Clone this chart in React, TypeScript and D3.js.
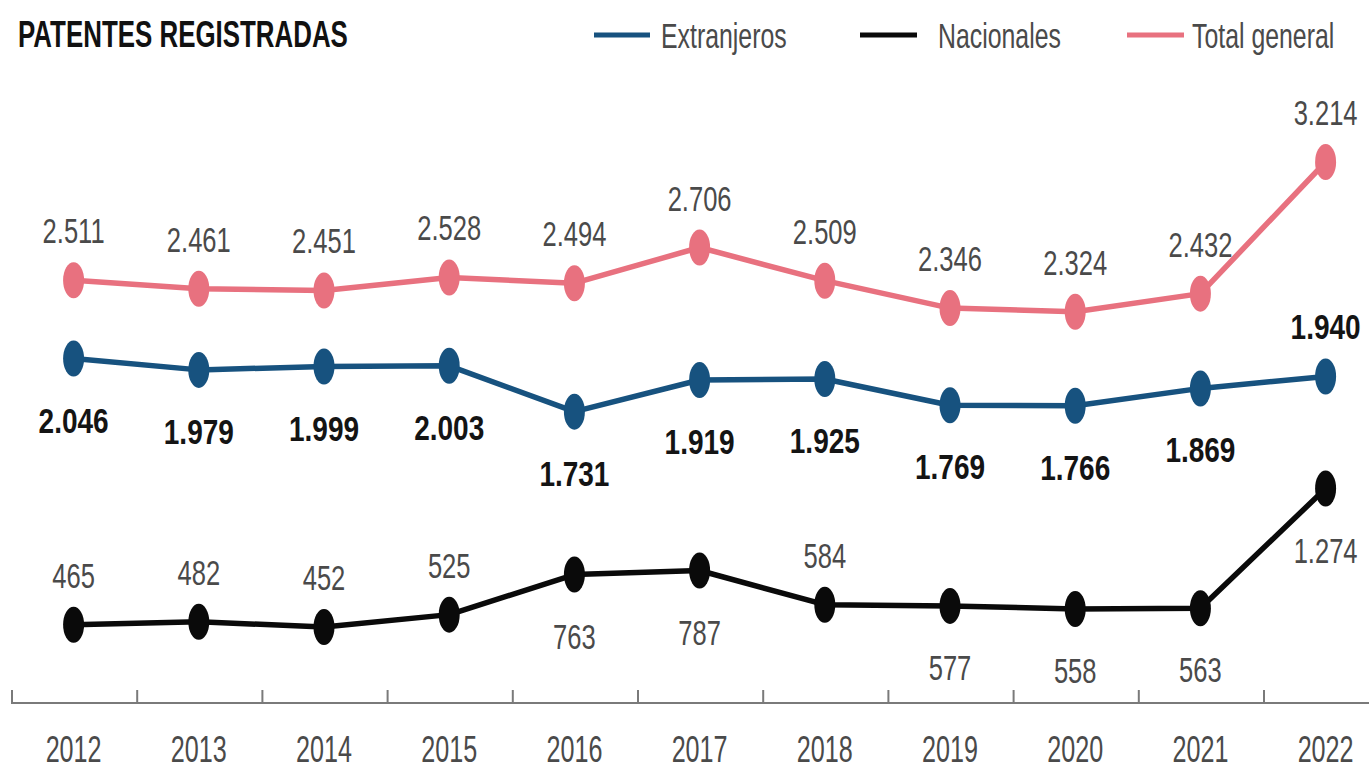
import React from "react";
import * as d3 from "d3";

const years = ["2012","2013","2014","2015","2016","2017","2018","2019","2020","2021","2022"];
const extranjeros = [2046, 1979, 1999, 2003, 1731, 1919, 1925, 1769, 1766, 1869, 1940];
const nacionales = [465, 482, 452, 525, 763, 787, 584, 577, 558, 563, 1274];
const totalGeneral = [2511, 2461, 2451, 2528, 2494, 2706, 2509, 2346, 2324, 2432, 3214];
// label placement: "a" above, "b" below
const extranjerosLabelPos = ["b","b","b","b","b","b","b","b","b","b","a"];
const nacionalesLabelPos = ["a","a","a","a","b","b","a","b","b","b","b"];
const totalLabelPos = ["a","a","a","a","a","a","a","a","a","a","a"];

const W = 1369, H = 769;
const FONT = "'Liberation Sans', Arial, sans-serif";

const fmt = (v: number) => d3.format(",")(v).replace(/,/g, ".");

function CText(props: { x: number; y: number; sx: number; size: number; bold?: boolean; anchor?: string; fill: string; children: React.ReactNode }) {
  const { x, y, sx, size, bold, anchor, fill, children } = props;
  return (
    <text
      transform={`translate(${x},${y}) scale(${sx},1)`}
      fontSize={size}
      fontWeight={bold ? "bold" : "normal"}
      textAnchor={anchor || "start"}
      fill={fill}
    >
      {children}
    </text>
  );
}

export default function App() {
  const x = d3.scaleBand<string>().domain(years).range([11, 11 + 11 * 125.2]).padding(0);
  const y = d3.scaleLinear().domain([0, 3214]).range([703, 162]);
  const cx = (yr: string) => (x(yr) as number) + x.bandwidth() / 2;

  const series = [
    { name: "Total general", values: totalGeneral, pos: totalLabelPos, color: "#e8717f", labelColor: "#4a4a4a", bold: false },
    { name: "Extranjeros", values: extranjeros, pos: extranjerosLabelPos, color: "#17527f", labelColor: "#141414", bold: true },
    { name: "Nacionales", values: nacionales, pos: nacionalesLabelPos, color: "#0a0a0a", labelColor: "#4a4a4a", bold: false },
  ];

  const line = d3.line<number>().x((_, i) => cx(years[i])).y((v) => y(v));

  const legend = [
    { name: "Extranjeros", color: "#17527f", x1: 594, x2: 650, tx: 661 },
    { name: "Nacionales", color: "#0a0a0a", x1: 860, x2: 917, tx: 938 },
    { name: "Total general", color: "#e8717f", x1: 1127, x2: 1184, tx: 1192 },
  ];

  const edges = years.map((yr) => x(yr) as number);

  return (
    <svg width={W} height={H} style={{ position: "absolute", left: 0, top: 0, background: "#fff" }} fontFamily={FONT}>
      <rect width={W} height={H} fill="#fff" />
      <CText x={18} y={47} sx={0.7} size={37} bold fill="#111">PATENTES REGISTRADAS</CText>
      {legend.map((l) => (
        <g key={l.name}>
          <line x1={l.x1} x2={l.x2} y1={35} y2={35} stroke={l.color} strokeWidth={5} />
          <CText x={l.tx} y={48} sx={0.71} size={35} fill="#4a4a4a">{l.name}</CText>
        </g>
      ))}
      {/* axis */}
      <line x1={11} x2={W} y1={703} y2={703} stroke="#7a7a7a" strokeWidth={2} />
      {edges.map((e, i) => (
        <line key={"t" + i} x1={e + 1} x2={e + 1} y1={703} y2={690} stroke="#7a7a7a" strokeWidth={2} />
      ))}
      {years.map((yr) => (
        <CText key={yr} x={cx(yr)} y={762} sx={0.68} size={37} anchor="middle" fill="#4a4a4a">{yr}</CText>
      ))}
      {series.map((s) => (
        <g key={s.name}>
          <path d={line(s.values) || ""} fill="none" stroke={s.color} strokeWidth={5.5} strokeLinejoin="round" />
          {s.values.map((v, i) => (
            <ellipse key={i} cx={cx(years[i])} cy={y(v)} rx={10.5} ry={18} fill={s.color} />
          ))}
          {s.values.map((v, i) => (
            <CText
              key={"l" + i}
              x={cx(years[i])}
              y={y(v) + (s.pos[i] === "a" ? -37 : 74)}
              sx={s.bold ? 0.8 : 0.73}
              size={35}
              bold={s.bold}
              anchor="middle"
              fill={s.labelColor}
            >
              {fmt(v)}
            </CText>
          ))}
        </g>
      ))}
    </svg>
  );
}
